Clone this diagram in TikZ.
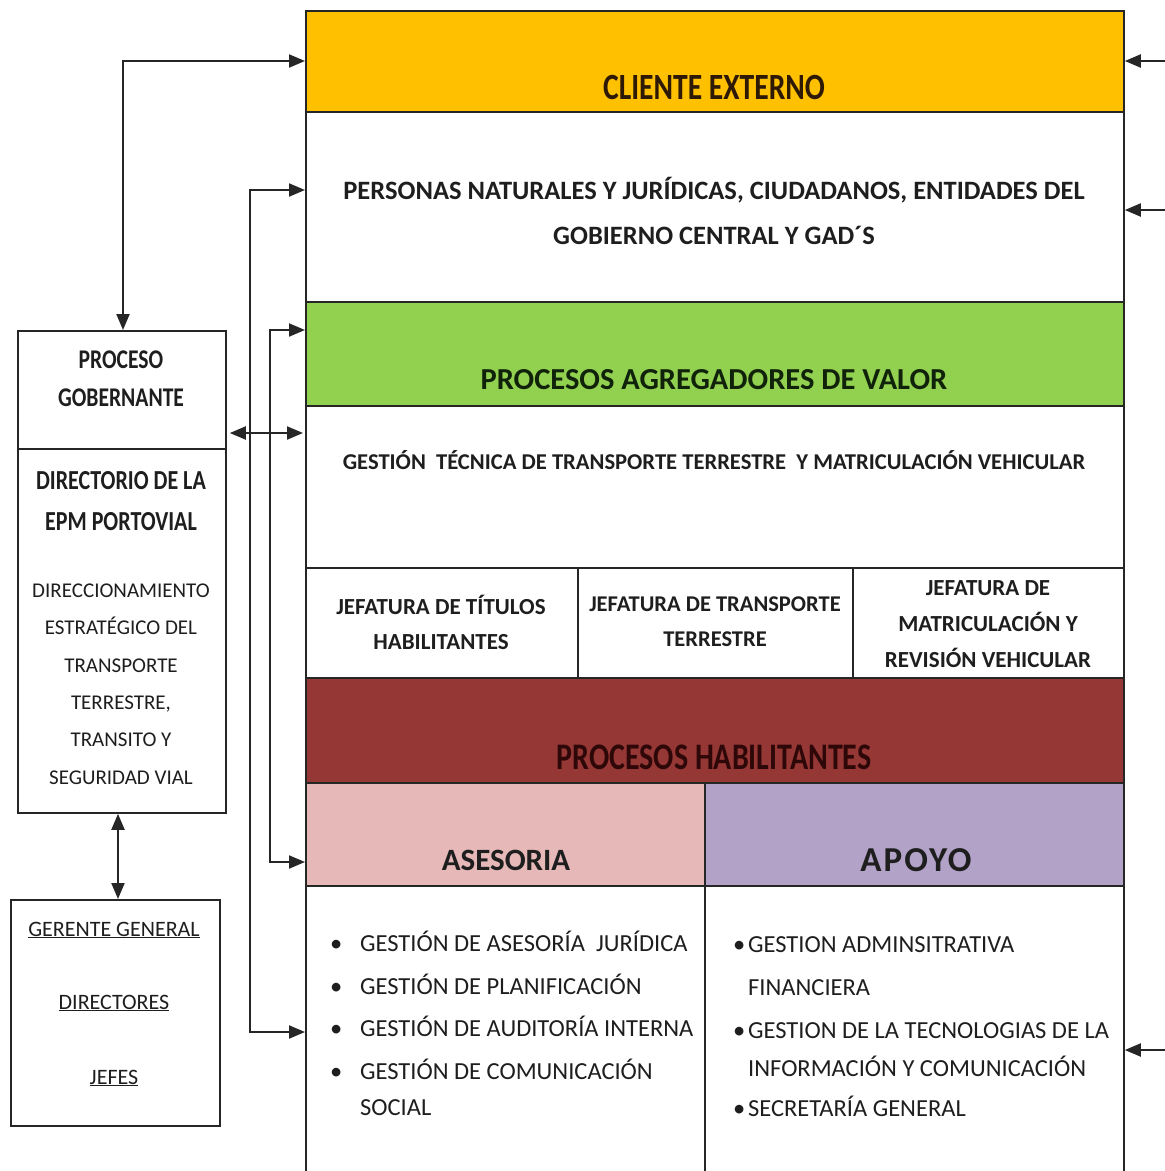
\documentclass[tikz,border=0pt]{standalone}
\usepackage{fontspec}
\setmainfont{Carlito}
\newfontfamily\condfont[FakeStretch=0.8]{Carlito}
\usetikzlibrary{arrows.meta,calc}
\definecolor{cOrange}{HTML}{FFC000}
\definecolor{cGreen}{HTML}{92D050}
\definecolor{cRed}{HTML}{953735}
\definecolor{cPink}{HTML}{E6B9B8}
\definecolor{cPurple}{HTML}{B3A2C7}
\definecolor{cText}{HTML}{1E1E1E}
\definecolor{cBrown}{HTML}{2E1A04}
\definecolor{cDkGreen}{HTML}{10230A}
\definecolor{cDkRed}{HTML}{2E0808}
\newcommand{\setfs}[2]{\fontsize{#1}{#2}\selectfont}
\tikzset{
  band/.style={draw=black!85, line width=1.8pt, inner sep=0pt, anchor=north west},
  txt/.style={inner sep=0pt, align=center, text=cText},
  hd/.style={inner sep=0pt, align=center},
  tip/.tip={Triangle[length=16pt,width=13pt]},
  arr/.style={line width=2pt, draw=black!85, -tip},
  arrb/.style={line width=2pt, draw=black!85, tip-tip}
}
\begin{document}
\begin{tikzpicture}[x=1pt,y=-1pt]
\path[use as bounding box, fill=white] (0,0) rectangle (1165,1171);
\clip (0,0) rectangle (1165,1171);
% main column
\node[band, fill=cOrange, minimum width=818, minimum height=101] (cliente) at (305,10) {};
\node[band, fill=white, minimum width=818, minimum height=190] (personas) at (305,111) {};
\node[band, fill=cGreen, minimum width=818, minimum height=104] (agreg) at (305,301) {};
\node[band, fill=white, minimum width=818, minimum height=162] (gestion) at (305,405) {};
\node[band, fill=white, minimum width=272, minimum height=110] (jef1) at (305,567) {};
\node[band, fill=white, minimum width=275, minimum height=110] (jef2) at (577,567) {};
\node[band, fill=white, minimum width=271, minimum height=110] (jef3) at (852,567) {};
\node[band, fill=cRed, minimum width=818, minimum height=105] (habil) at (305,677) {};
\node[band, fill=cPink, minimum width=399, minimum height=103] (ases) at (305,782) {};
\node[band, fill=cPurple, minimum width=419, minimum height=103] (apoyo) at (704,782) {};
\node[band, fill=white, minimum width=399, minimum height=320] (aseslist) at (305,885) {};
\node[band, fill=white, minimum width=419, minimum height=320] (apoyolist) at (704,885) {};
% left boxes
\node[band, fill=white, minimum width=208, minimum height=118] (gob) at (17,330) {};
\node[band, fill=white, minimum width=208, minimum height=364] (dir) at (17,448) {};
\node[band, fill=white, minimum width=209, minimum height=226] (ger) at (10,899) {};
% texts
\node[hd, text=cBrown, font=\condfont\bfseries\setfs{37}{40}] (tCliente) at (714,87) {CLIENTE EXTERNO};
\node[txt, font=\bfseries\setfs{26.5}{45}] (tPersonas) at (714,211) {PERSONAS NATURALES Y JURÍDICAS, CIUDADANOS, ENTIDADES DEL\\GOBIERNO CENTRAL Y GAD´S};
\node[hd, text=cDkGreen, font=\bfseries\setfs{30.5}{36}] (tAgreg) at (714,380) {PROCESOS AGREGADORES DE VALOR};
\node[txt, font=\bfseries\setfs{22.6}{26}] (tGestion) at (714,460) {GESTIÓN~ TÉCNICA DE TRANSPORTE TERRESTRE~ Y MATRICULACIÓN VEHICULAR};
\node[txt, font=\bfseries\setfs{23}{35}] (tJef1) at (441,622) {JEFATURA DE TÍTULOS\\HABILITANTES};
\node[txt, font=\bfseries\setfs{22.5}{35}] (tJef2) at (715,622) {JEFATURA DE TRANSPORTE\\TERRESTRE};
\node[txt, font=\bfseries\setfs{23}{36}] (tJef3) at (988,624) {JEFATURA DE\\MATRICULACIÓN Y\\REVISIÓN VEHICULAR};
\node[hd, text=cDkRed, font=\condfont\bfseries\setfs{37.5}{40}] (tHabil) at (714,757) {PROCESOS HABILITANTES};
\node[hd, text=cText, font=\bfseries\setfs{31}{36}] (tAses) at (506,860) {ASESORIA};
\node[hd, text=cText, font=\bfseries\setfs{35}{38}\addfontfeature{LetterSpace=6}] (tApoyo) at (916,860) {APOYO};
% lists
\node[txt, align=left, anchor=north west, font=\setfs{24.5}{42.5}] (lAses) at (330,931) {%
\makebox[30pt][l]{•}GESTIÓN DE ASESORÍA~ JURÍDICA\\
\makebox[30pt][l]{•}GESTIÓN DE PLANIFICACIÓN\\
\makebox[30pt][l]{•}GESTIÓN DE AUDITORÍA INTERNA\\
\makebox[30pt][l]{•}GESTIÓN DE COMUNICACIÓN\\[-6pt]
\makebox[30pt][l]{}SOCIAL};
\node[txt, align=left, anchor=north west, font=\setfs{24.5}{43}] (lApoyo) at (733,936) {%
\makebox[15pt][l]{•}GESTION ADMINSITRATIVA\\
\makebox[15pt][l]{}FINANCIERA\\
\makebox[15pt][l]{•}GESTION DE LA TECNOLOGIAS DE LA\\[-5pt]
\makebox[15pt][l]{}INFORMACIÓN Y COMUNICACIÓN\\[-3pt]
\makebox[15pt][l]{•}SECRETARÍA GENERAL};
% left texts
\node[txt, font=\condfont\bfseries\setfs{27}{38}] (tGob) at (121,379) {PROCESO\\GOBERNANTE};
\node[txt, font=\condfont\bfseries\setfs{27.5}{41}] (tDir) at (121,501) {DIRECTORIO DE LA\\EPM PORTOVIAL};
\node[txt, font=\setfs{21}{37.4}] (tDirTxt) at (121,684) {DIRECCIONAMIENTO\\ESTRATÉGICO DEL\\TRANSPORTE\\TERRESTRE,\\TRANSITO Y\\SEGURIDAD VIAL};
\node[txt, font=\setfs{22}{26}] (tGer) at (114,930) {\underline{GERENTE GENERAL}};
\node[txt, font=\setfs{22}{26}] (tDirs) at (114,1003) {\underline{DIRECTORES}};
\node[txt, font=\setfs{22}{26}] (tJefes) at (114,1078) {\underline{JEFES}};
% connectors
\coordinate (c1) at (123,61);
\draw[arrb] (gob.north -| c1) -- (c1) -- (c1 -| cliente.west);
\coordinate (c2a) at (250,190);
\coordinate (c2b) at (250,1032);
\draw[arrb] (c2a -| personas.west) -- (c2a) -- (c2b) -- (c2b -| aseslist.west);
\coordinate (c3a) at (270,330);
\coordinate (c3b) at (270,862);
\draw[arrb] (c3a -| agreg.west) -- (c3a) -- (c3b) -- (c3b -| ases.west);
\coordinate (c4) at (0,433);
\draw[arrb] ([xshift=3pt]c4 -| gob.east) -- ([xshift=-2pt]c4 -| gestion.west);
\coordinate (c5) at (118,0);
\draw[arrb] (c5 |- dir.south) -- (c5 |- ger.north);
\coordinate (r1) at (1165,61);
\coordinate (r2) at (1165,210);
\coordinate (r3) at (1165,1050);
\draw[arr] (r1) -- (r1 -| cliente.east);
\draw[arr] (r2) -- (r2 -| personas.east);
\draw[arr] (r3) -- (r3 -| apoyolist.east);
\end{tikzpicture}
\end{document}
